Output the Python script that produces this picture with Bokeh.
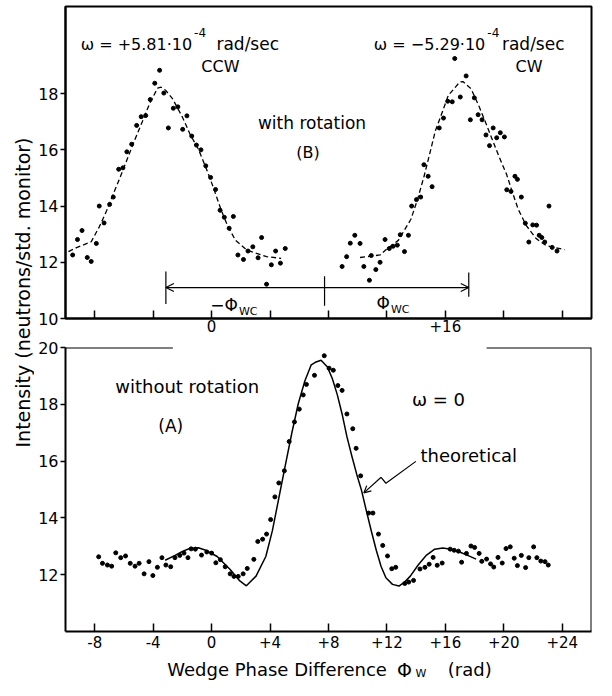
import math
from bokeh.plotting import figure
from bokeh.layouts import row, column
from bokeh.models import Range1d, FixedTicker, Label, Arrow, OpenHead
from bokeh.embed import file_html
from bokeh.resources import INLINE

FONT = "DejaVu Sans"

# ---------------- data ----------------
# (B) with rotation, CCW run (left peak)
ccw_x = [-9.51, -9.18, -8.87, -8.51, -8.24, -7.89, -7.69, -7.36, -6.98, -6.73, -6.36, -6.07,
         -5.80, -5.47, -5.13, -4.82, -4.51, -4.20, -3.89, -3.56, -3.27, -2.96, -2.62, -2.31,
         -1.98, -1.69, -1.36, -1.04, -0.73, -0.40, -0.07, 0.27, 0.58, 0.87, 1.20, 1.49,
         1.80, 2.18, 2.49, 2.82, 3.18, 3.42, 3.76, 4.09, 4.38, 4.71, 5.04]
ccw_y = [12.26, 12.81, 13.13, 12.17, 12.03, 12.67, 14.00, 13.40, 14.06, 14.32, 15.31, 15.36,
         15.93, 16.20, 16.87, 17.18, 17.22, 17.79, 18.37, 18.83, 18.02, 16.78, 17.48, 17.53,
         16.73, 17.21, 16.49, 16.17, 16.00, 15.43, 15.02, 14.59, 13.85, 13.60, 13.21, 13.63,
         12.26, 12.10, 12.40, 12.55, 12.16, 12.88, 11.22, 11.91, 12.40, 11.97, 12.49]
ccw_fit_x = [-9.80, -9.24, -8.24, -7.69, -7.18, -6.69, -6.24, -5.76, -5.24, -4.73, -4.24, -3.69,
             -3.47, -3.13, -2.69, -2.02, -1.47, -0.91, -0.36, 0.09, 0.64, 1.09, 1.64, 2.42, 3.76, 4.76]
ccw_fit_y = [12.38, 12.52, 12.73, 13.26, 13.84, 14.48, 15.05, 15.69, 16.38, 17.02, 17.65, 18.20,
             18.23, 18.11, 17.83, 17.19, 16.55, 16.03, 15.33, 14.70, 13.88, 13.30, 12.78, 12.43, 12.20, 12.14]

# (B) with rotation, CW run (right peak)
cw_x = [8.93, 9.24, 9.49, 9.80, 10.16, 10.42, 10.80, 10.93, 11.24, 11.53, 11.87, 12.16,
        12.42, 12.71, 12.91, 13.20, 13.47, 13.69, 14.02, 14.31, 14.53, 14.82, 15.09, 15.58,
        15.87, 16.16, 16.47, 16.64, 17.02, 17.42, 17.71, 17.98, 18.24, 18.51, 18.78, 19.02,
        19.27, 19.51, 19.76, 20.04, 20.20, 20.49, 20.76, 20.93, 21.20, 21.47, 21.71, 21.98,
        22.24, 22.42, 22.60, 22.80, 23.09, 23.31, 23.64]
cw_y = [11.85, 12.20, 12.68, 12.96, 12.67, 11.85, 11.36, 12.24, 11.74, 12.00, 12.81, 12.49,
        12.57, 12.61, 12.98, 12.38, 12.96, 14.00, 14.23, 14.32, 15.47, 15.06, 14.69, 16.78,
        17.13, 17.73, 17.71, 19.25, 17.88, 18.63, 17.07, 17.85, 17.25, 17.07, 16.53, 16.15,
        16.78, 16.43, 16.61, 16.46, 14.58, 14.52, 15.06, 14.95, 14.32, 13.39, 12.72, 13.33,
        13.32, 12.96, 12.88, 12.72, 14.00, 12.53, 12.40]
cw_fit_x = [10.16, 11.53, 11.89, 12.78, 13.64, 14.09, 14.53, 14.87, 15.31, 15.76, 16.20, 16.98,
            17.20, 17.76, 18.31, 18.76, 19.20, 19.64, 20.20, 20.53, 20.98, 21.53, 22.20, 22.87, 24.16]
cw_fit_y = [12.17, 12.26, 12.43, 12.78, 13.53, 14.23, 15.04, 15.74, 16.67, 17.30, 17.94, 18.41,
            18.43, 18.17, 17.54, 16.96, 16.38, 15.80, 15.11, 14.58, 13.89, 13.31, 12.85, 12.60, 12.45]

# Phi_WC markers (peak positions) and arrow height
phi_wc_x = [-3.13, 7.73, 17.6]
phi_wc_tick_lo = [10.52, 10.45, 10.77]
phi_wc_tick_hi = [11.67, 11.50, 11.64]
phi_wc_arrow_y = 11.1

# (A) without rotation
norot_x = [-7.73, -7.47, -7.13, -6.84, -6.56, -6.22, -5.89, -5.57, -5.24, -4.96, -4.62, -4.29,
           -4.02, -3.71, -3.40, -3.13, -2.80, -2.51, -2.18, -1.89, -1.62, -1.40, -1.11, -0.69,
           -0.33, 0.00, 0.29, 0.60, 0.93, 1.27, 1.53, 1.82, 2.16, 2.44, 2.89, 3.16, 3.49, 3.76,
           4.04, 4.33, 4.60, 4.98, 5.31, 5.67, 6.00, 6.27, 6.49, 7.04, 7.71,
           8.04, 8.33, 8.64, 8.93, 9.26, 9.66, 9.89, 10.20, 10.75, 11.04, 11.42, 11.71, 12.04,
           12.33, 12.60, 13.22, 13.49, 13.82, 14.26, 14.60, 14.89, 15.16, 15.44, 15.78, 16.33,
           16.60, 16.89, 17.11, 17.44, 17.75, 18.00, 18.31, 18.49, 18.82, 19.09, 19.31, 19.60,
           19.89, 20.15, 20.44, 20.71, 20.93, 21.20, 21.49, 21.71, 22.04, 22.26, 22.53, 22.82, 23.04]
norot_y = [12.63, 12.40, 12.34, 12.30, 12.77, 12.60, 12.66, 12.40, 12.30, 12.40, 12.03, 12.46,
           11.97, 12.26, 12.60, 12.34, 12.28, 12.60, 12.68, 12.76, 12.60, 12.91, 12.90, 12.69,
           12.80, 12.76, 12.42, 12.53, 12.28, 12.03, 11.94, 11.94, 12.03, 12.22, 12.54, 13.17,
           13.25, 13.43, 13.94, 14.74, 15.23, 15.66, 16.69, 17.38, 17.83, 18.33, 18.70, 19.02, 19.71,
           19.27, 19.20, 18.66, 18.49, 17.66, 17.14, 16.45, 15.48, 14.17, 14.17, 13.43, 13.03, 12.66,
           12.21, 12.26, 11.69, 11.74, 11.80, 12.20, 12.26, 12.37, 12.61, 12.33, 12.41, 12.90,
           12.86, 12.83, 12.44, 12.75, 13.01, 12.96, 12.75, 12.47, 12.55, 12.38, 12.27, 12.61,
           12.41, 12.92, 12.98, 12.58, 12.32, 12.68, 12.25, 12.60, 12.98, 12.60, 12.48, 12.46, 12.34]
theory_x = [-3.18, -2.50, -2.00, -1.50, -0.91, -0.40, 0.38, 1.27, 1.93, 2.38, 3.04, 3.71, 4.16,
            4.60, 5.04, 5.49, 5.93, 6.38, 6.82, 7.10, 7.49, 7.93, 8.26, 8.60, 8.93, 9.26, 9.60,
            9.93, 10.26, 10.60, 10.93, 11.27, 11.60, 11.93, 12.38, 12.82, 13.16, 13.60, 14.15,
            14.71, 15.27, 15.82, 16.38, 16.93, 17.49, 18.10]
theory_y = [12.51, 12.68, 12.82, 12.92, 12.95, 12.86, 12.64, 12.18, 11.78, 11.61, 11.95, 12.64,
            13.55, 14.70, 15.84, 16.99, 18.02, 18.82, 19.39, 19.48, 19.55, 19.31, 18.91, 18.34,
            17.66, 16.86, 16.17, 15.54, 14.97, 14.23, 13.54, 12.86, 12.29, 11.89, 11.66, 11.60,
            11.72, 11.95, 12.35, 12.69, 12.90, 12.94, 12.90, 12.81, 12.69, 12.55]
pointer_x = [13.98, 11.93, 11.60, 10.42]
pointer_y = [15.99, 15.22, 15.43, 14.88]

# axes / ticks
x_ticks = [-8, -4, 0, 4, 8, 12, 16, 20, 24]
x_tick_labels_bottom = ["-8", "-4", "0", "+4", "+8", "+12", "+16", "+20", "+24"]
x_tick_labels_top = ["", "", "0", "", "", "", "+16", "", ""]
y_ticks_top = [10, 12, 14, 16, 18]
y_ticks_bottom = [12, 14, 16, 18, 20]
top_border_gap = [-2.65, 18.82]   # gap in the upper frame line of panel (A)
X_LIM = (-10, 26)
Y_LIM_TOP = (10, 21.1)
Y_LIM_BOTTOM = (10, 20)

PANEL_W = 562      # 31 (left border) + 526 (frame) + 5 (right border)
MB_LEFT, MB_RIGHT = 31, 5


def make_panel(height, ylim, yticks, xlabels, mb_top, mb_bottom, xstandoff):
    p = figure(width=PANEL_W, height=height, x_range=Range1d(*X_LIM), y_range=Range1d(*ylim),
               min_border_left=MB_LEFT, min_border_right=MB_RIGHT, min_border_top=mb_top,
               min_border_bottom=mb_bottom, output_backend="svg", toolbar_location=None,
               title=None, background_fill_color="white", border_fill_color="white")
    p.xgrid.visible = False
    p.ygrid.visible = False
    p.outline_line_color = "black"
    p.outline_line_width = 2
    p.outline_line_alpha = 1.0
    for ax in p.xaxis:
        ax.ticker = FixedTicker(ticks=x_ticks)
        ax.major_label_overrides = {t: s for t, s in zip(x_ticks, xlabels)}
        ax.major_tick_in = 8
        ax.major_tick_out = 0
        ax.major_tick_line_width = 1.5
        ax.minor_tick_line_color = None
        ax.axis_line_width = 2
        ax.major_label_standoff = xstandoff
        ax.major_label_text_font = FONT
        ax.major_label_text_font_size = "15px"
        ax.major_label_text_color = "black"
    for ax in p.yaxis:
        ax.ticker = FixedTicker(ticks=yticks)
        ax.major_tick_in = 0
        ax.major_tick_out = 5
        ax.major_tick_line_width = 1.5
        ax.minor_tick_line_color = None
        ax.axis_line_width = 2
        ax.major_label_standoff = 2
        ax.major_label_text_font = FONT
        ax.major_label_text_font_size = "16px"
        ax.major_label_text_color = "black"
    return p


def txt(p, x, y, text, size, align="center", baseline="middle", angle=0.0):
    p.add_layout(Label(x=x, y=y, text=text, text_font=FONT, text_font_size=f"{size}px",
                       text_align=align, text_baseline=baseline, text_color="black",
                       angle=angle))


# ---------------- panel (B): with rotation ----------------
top = make_panel(337, Y_LIM_TOP, y_ticks_top, x_tick_labels_top, 6, 19, 1)
top.line(ccw_fit_x, ccw_fit_y, line_color="black", line_width=1.3, line_dash="5 3")
top.line(cw_fit_x, cw_fit_y, line_color="black", line_width=1.3, line_dash="5 3")
top.scatter(ccw_x, ccw_y, size=4, color="black")
top.scatter(cw_x, cw_y, size=4, color="black")
top.segment(x0=phi_wc_x, y0=phi_wc_tick_lo, x1=phi_wc_x, y1=phi_wc_tick_hi,
            line_color="black", line_width=1.2)
top.add_layout(Arrow(x_start=phi_wc_x[1], y_start=phi_wc_arrow_y, x_end=phi_wc_x[0],
                     y_end=phi_wc_arrow_y, line_width=1.2,
                     end=OpenHead(size=8, line_width=1.2)))
top.add_layout(Arrow(x_start=phi_wc_x[1], y_start=phi_wc_arrow_y, x_end=phi_wc_x[2],
                     y_end=phi_wc_arrow_y, line_width=1.2,
                     end=OpenHead(size=8, line_width=1.2)))

txt(top, -1.33, 19.75, "ω = +5.81·10", 16, align="right", baseline="alphabetic")
txt(top, -1.2, 20.17, "-4", 12, align="left", baseline="alphabetic")
txt(top, 0.33, 19.75, "rad/sec", 17, align="left", baseline="alphabetic")
txt(top, 0.6, 18.98, "CCW", 16)
txt(top, 18.73, 19.75, "ω = −5.29·10", 16, align="right", baseline="alphabetic")
txt(top, 18.87, 20.17, "-4", 12, align="left", baseline="alphabetic")
txt(top, 19.87, 19.75, "rad/sec", 17, align="left", baseline="alphabetic")
txt(top, 21.73, 18.98, "CW", 16)
txt(top, 6.87, 16.96, "with rotation", 17)
txt(top, 6.6, 15.92, "(B)", 16)
txt(top, 1.8, 10.49, "−Φ", 17, align="right")
txt(top, 1.87, 10.24, "WC", 11, align="left", baseline="alphabetic")
txt(top, 12.2, 10.56, "Φ", 17, align="right")
txt(top, 12.27, 10.31, "WC", 11, align="left", baseline="alphabetic")

# ---------------- panel (A): without rotation ----------------
bot = make_panel(316, Y_LIM_BOTTOM, y_ticks_bottom, x_tick_labels_bottom, 10, 22, 4)
bot.outline_line_color = None
for xs, xe in ((X_LIM[0], top_border_gap[0]), (top_border_gap[1], X_LIM[1])):
    bot.add_layout(Arrow(x_start=xs, y_start=Y_LIM_BOTTOM[1], x_end=xe, y_end=Y_LIM_BOTTOM[1],
                         line_width=2, end=None))
bot.add_layout(Arrow(x_start=X_LIM[1], y_start=Y_LIM_BOTTOM[0], x_end=X_LIM[1],
                     y_end=Y_LIM_BOTTOM[1], line_width=2, end=None))
bot.line(theory_x, theory_y, line_color="black", line_width=1.5)
bot.scatter(norot_x, norot_y, size=4, color="black")
bot.line(pointer_x[:-1], pointer_y[:-1], line_color="black", line_width=1.2)
bot.add_layout(Arrow(x_start=pointer_x[-2], y_start=pointer_y[-2], x_end=pointer_x[-1],
                     y_end=pointer_y[-1], line_width=1.2,
                     end=OpenHead(size=7, line_width=1.2)))

txt(bot, -1.67, 18.63, "without rotation", 18)
txt(bot, -2.8, 17.25, "(A)", 17)
txt(bot, 15.53, 18.18, "ω = 0", 18)
txt(bot, 17.6, 16.19, "theoretical", 18)

# ---------------- x-axis title strip (same x scale as the panels) ----------------
xt = figure(width=PANEL_W, height=27, x_range=Range1d(*X_LIM), y_range=Range1d(0, 27),
            x_axis_location=None, y_axis_location=None, min_border_left=MB_LEFT,
            min_border_right=MB_RIGHT, min_border_top=0, min_border_bottom=0, title=None,
            outline_line_color=None, toolbar_location=None, output_backend="svg")
xt.xgrid.visible = False
xt.ygrid.visible = False
txt(xt, 12.0, 11, "Wedge Phase Difference", 18, align="right", baseline="alphabetic")
txt(xt, 13.2, 11, "Φ", 19, baseline="alphabetic")
txt(xt, 13.95, 7.5, "W", 11, align="left", baseline="alphabetic")
txt(xt, 17.67, 11, "(rad)", 18, baseline="alphabetic")

# ---------------- shared y-axis title ----------------
lab = figure(width=34, height=680, x_range=Range1d(0, 34), y_range=Range1d(0, 680),
             x_axis_location=None, y_axis_location=None, min_border=0, title=None,
             outline_line_color=None, toolbar_location=None, output_backend="svg")
lab.xgrid.visible = False
lab.ygrid.visible = False
txt(lab, 22, 388, "Intensity (neutrons/std. monitor)", 19, angle=math.pi / 2)

layout = row(lab, column(top, bot, xt))
open("out.html", "w").write(file_html(layout, INLINE))
